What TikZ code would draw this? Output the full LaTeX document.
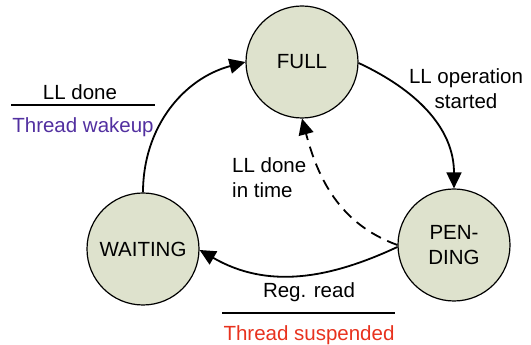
\documentclass[tikz,border=0pt]{standalone}
\usepackage{fontspec}
\setmainfont{Liberation Sans}
\usetikzlibrary{arrows.meta}
\definecolor{statefill}{RGB}{222,226,205}
\definecolor{wakecol}{RGB}{82,48,160}
\definecolor{suspcol}{RGB}{232,50,30}
\tikzset{
  state/.style={circle, draw=black, line width=1.2pt, fill=statefill, inner sep=0pt,
    minimum size=112pt, font=\fontsize{20.5}{25}\selectfont, align=center},
  trans/.style={line width=1.8pt, -{Triangle[length=16pt,width=15pt]}},
  dtrans/.style={trans, dash pattern=on 11pt off 7pt},
  lbl/.style={inner sep=0pt, font=\fontsize{20.5}{25}\selectfont},
  sep/.style={line width=2.6pt}
}
\begin{document}
\begin{tikzpicture}[x=1pt,y=1pt]
\useasboundingbox (0,0) rectangle (531,345);
\node[state] (full) at (302,283) {FULL};
\node[state] (pend) at (454,100) {PEN-\\DING};
\node[state] (wait) at (143,96) {WAITING};

\draw[trans] (full.-1) to[out=-25,in=90] (pend.north);
\draw[trans] (pend.182) to[out=205,in=-30] (wait.-1);
\draw[trans] (wait.north) to[out=90,in=195] (full.180);
\draw[dtrans] (pend.west) to[out=160,in=-75] (full.south);

\node[lbl, align=center, anchor=north] (lop) at (466,277) {\fontsize{20.5}{22}\selectfont LL operation\\started};
\node[lbl, align=left, anchor=north west] (lit) at (232,188) {\fontsize{20.5}{26}\selectfont LL done\\in time};

\node[lbl, anchor=base] (lld) at (80,245) {LL done};
\coordinate (s1a) at (11,240);
\coordinate (s1b) at (155,240);
\draw[sep] (s1a) -- (s1b);
\node[lbl, anchor=base, text=wakecol] (twk) at (83,212) {Thread wakeup};

\node[lbl, anchor=base] (rrd) at (309,47) {Reg. read};
\coordinate (s2a) at (222,32);
\coordinate (s2b) at (395,32);
\draw[sep] (s2a) -- (s2b);
\node[lbl, anchor=base, text=suspcol] (tsp) at (309,4.5) {Thread suspended};
\end{tikzpicture}
\end{document}
